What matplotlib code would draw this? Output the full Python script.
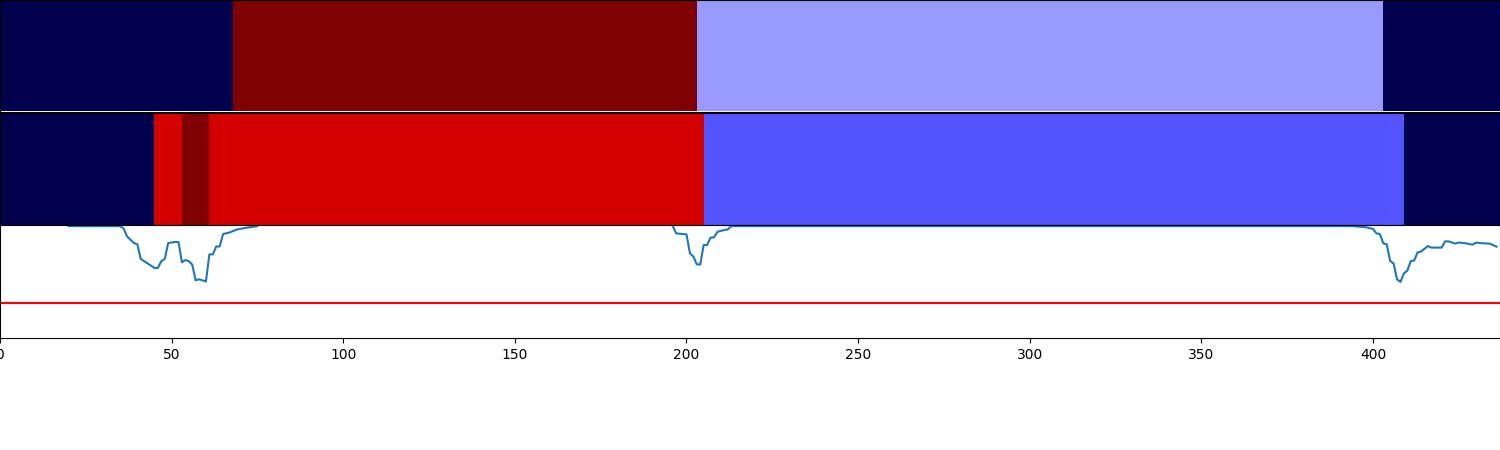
import numpy as np
import matplotlib
matplotlib.use("Agg")
import matplotlib.pyplot as plt

# ---- data ----
n_points = 437
top_bounds = [0, 68, 203, 403, 437]
top_labels = [0, 5, 2, 0]
mid_bounds = [0, 45, 53, 61, 205, 409, 437]
mid_labels = [0, 5, 6, 5, 2, 0]

sig_x = [0, 19, 20, 35, 36, 37, 39, 40, 41, 43, 45, 46, 47, 48, 49, 51, 52, 53, 54,
         55, 56, 57, 58, 60, 61, 62, 63, 64, 65, 67, 69, 72, 75, 76, 195, 196, 197,
         200, 201, 202, 203, 204, 205, 206, 207, 208, 209, 211, 212, 213, 394, 398,
         400, 401, 402, 403, 404, 405, 406, 407, 408, 409, 410, 411, 412, 413, 414,
         416, 417, 420, 421, 422, 424, 425, 427, 429, 430, 432, 434, 436]
sig_y = [1.03, 1.03, 0.99, 0.99, 0.97, 0.90, 0.84, 0.83, 0.70, 0.66, 0.62, 0.62, 0.68,
         0.70, 0.84, 0.85, 0.85, 0.67, 0.69, 0.68, 0.65, 0.51, 0.52, 0.50, 0.74, 0.74,
         0.81, 0.81, 0.92, 0.935, 0.96, 0.977, 0.99, 1.03, 1.03, 0.99, 0.926, 0.917,
         0.75, 0.72, 0.652, 0.65, 0.823, 0.823, 0.888, 0.89, 0.94, 0.956, 0.96, 0.99,
         0.99, 0.98, 0.965, 0.926, 0.92, 0.838, 0.83, 0.681, 0.66, 0.519, 0.496, 0.572,
         0.596, 0.681, 0.685, 0.758, 0.765, 0.814, 0.80, 0.80, 0.855, 0.855, 0.835,
         0.845, 0.838, 0.826, 0.844, 0.838, 0.835, 0.808]
threshold = 0.31
xticks = [0, 50, 100, 150, 200, 250, 300, 350, 400]


def expand(bounds, labels):
    arr = np.zeros(n_points)
    for a, b, lab in zip(bounds[:-1], bounds[1:], labels):
        arr[a:b] = lab
    return arr[np.newaxis, :]


fig = plt.figure(figsize=(15, 4.5), dpi=100)
H = 450.0
ax_top = fig.add_axes([0, (H - 111.5) / H, 1.0, 111.5 / H])
ax_mid = fig.add_axes([0, (H - 225) / H, 1.0, 112 / H])
ax = fig.add_axes([0, (H - 338) / H, 1.0, 113 / H])

for a, b, l in ((ax_top, top_bounds, top_labels), (ax_mid, mid_bounds, mid_labels)):
    a.imshow(expand(b, l), aspect='auto', cmap='seismic', interpolation='nearest',
             extent=(0, n_points, 0, 1))
    a.set_xlim(0, n_points)
    a.set_xticks([])
    a.set_yticks([])

ax.plot(sig_x, sig_y, color='tab:blue', lw=1.5)
ax.axhline(threshold, color='red', lw=1.5)
ax.set_xlim(0, n_points)
ax.set_ylim(0, 1)
ax.set_yticks([])
ax.set_xticks(xticks)

fig.savefig('out.png', dpi=100)
